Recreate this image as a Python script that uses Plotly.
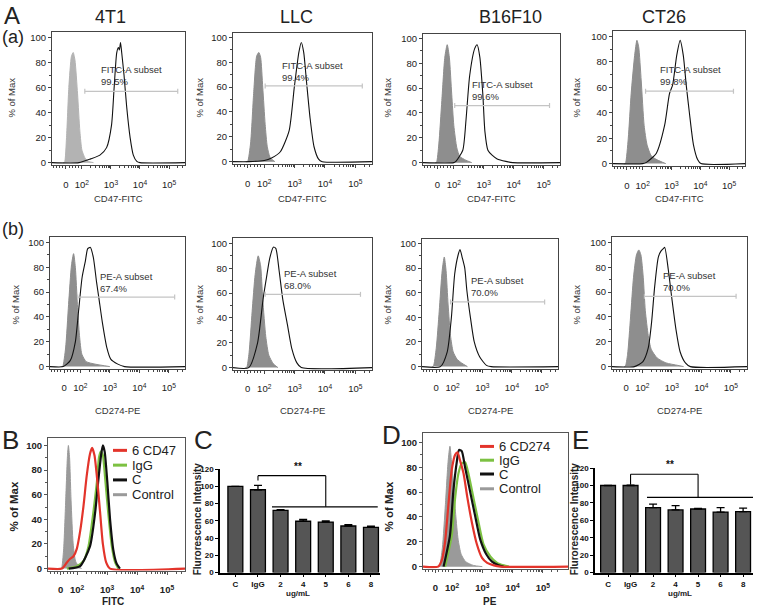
import math
import plotly.graph_objects as go

W, H = 757, 614
FONT = "Arial, Liberation Sans, sans-serif"

# ------------------------------------------------------------------ data
cell_lines = ["4T1", "LLC", "B16F10", "CT26"]
fitc_subset = ["99.5%", "99.4%", "99.6%", "99.8%"]
pe_subset = ["67.4%", "68.0%", "70.0%", "70.0%"]

# x values are in display units of the biexponential axis:
# "0" -> 1.45, 10^2 -> 2, 10^3 -> 3, 10^4 -> 4, 10^5 -> 5
# Row (a) CD47-FITC
cd47_4t1_ctrl_x = [1.35, 1.40, 1.47, 1.55, 1.64, 1.70, 1.76, 1.85, 1.93, 2.0, 2.1, 2.22, 2.4]
cd47_4t1_ctrl_y = [0, 0, 20, 60, 85, 88, 82, 55, 25, 10, 4, 1, 0]
cd47_4t1_x = [0.97, 1.9, 2.3, 2.62, 2.85, 3.02, 3.11, 3.2, 3.26, 3.29, 3.33, 3.37, 3.45, 3.54, 3.66, 3.77, 3.89, 4.0, 5.55]
cd47_4t1_y = [0, 0, 3, 6, 12, 30, 60, 88, 92, 90, 96, 88, 70, 45, 20, 6, 1, 0, 0]

cd47_llc_ctrl_x = [1.40, 1.45, 1.55, 1.65, 1.75, 1.82, 1.88, 1.95, 2.03, 2.1, 2.2, 2.35]
cd47_llc_ctrl_y = [0, 0, 15, 55, 85, 88, 84, 60, 30, 12, 3, 0]
cd47_llc_x = [0.97, 1.5, 2.0, 2.24, 2.53, 2.82, 2.99, 3.14, 3.22, 3.3, 3.39, 3.51, 3.64, 3.79, 3.91, 5.55]
cd47_llc_y = [0, 0, 1, 3, 8, 25, 60, 88, 96, 88, 65, 35, 12, 2, 0, 0]

cd47_b16_ctrl_x = [1.38, 1.42, 1.5, 1.6, 1.7, 1.78, 1.85, 1.93, 2.0, 2.1, 2.2, 2.4, 2.6]
cd47_b16_ctrl_y = [0, 0, 15, 50, 85, 95, 85, 55, 30, 12, 5, 2, 0]
cd47_b16_x = [0.97, 2.0, 2.07, 2.3, 2.41, 2.53, 2.7, 2.78, 2.87, 2.97, 3.04, 3.14, 3.28, 3.45, 3.74, 3.97, 5.55]
cd47_b16_y = [0, 0, 1, 10, 35, 70, 92, 95, 85, 55, 25, 10, 6, 3, 1, 0, 0]

cd47_ct26_ctrl_x = [1.36, 1.4, 1.5, 1.6, 1.72, 1.8, 1.86, 1.95, 2.05, 2.15, 2.3, 2.5, 2.8]
cd47_ct26_ctrl_y = [0, 0, 20, 55, 85, 97, 92, 65, 30, 15, 6, 3, 0]
cd47_ct26_x = [0.97, 2.0, 2.13, 2.47, 2.76, 2.93, 3.04, 3.18, 3.3, 3.41, 3.51, 3.62, 3.76, 3.91, 4.02, 5.55]
cd47_ct26_y = [0, 0, 1, 8, 30, 55, 62, 85, 97, 85, 62, 40, 15, 3, 0, 0]

# Row (b) CD274-PE
pdl1_4t1_ctrl_x = [1.36, 1.4, 1.5, 1.6, 1.7, 1.77, 1.83, 1.9, 1.97, 2.05, 2.2, 2.5, 3.0]
pdl1_4t1_ctrl_y = [0, 0, 15, 50, 82, 91, 80, 50, 25, 10, 4, 2, 0]
pdl1_4t1_x = [0.97, 1.42, 1.66, 1.83, 1.94, 2.06, 2.17, 2.25, 2.34, 2.44, 2.55, 2.63, 2.75, 2.9, 3.03, 3.27, 3.5, 5.55]
pdl1_4t1_y = [0, 0, 5, 20, 45, 72, 85, 95, 96, 88, 68, 55, 35, 15, 6, 2, 0, 0]

pdl1_llc_ctrl_x = [1.38, 1.42, 1.5, 1.6, 1.7, 1.8, 1.88, 1.95, 2.05, 2.15, 2.3, 2.45]
pdl1_llc_ctrl_y = [0, 0, 12, 45, 75, 90, 82, 55, 25, 10, 3, 0]
pdl1_llc_x = [0.97, 1.49, 1.78, 1.96, 2.07, 2.18, 2.3, 2.38, 2.49, 2.61, 2.76, 2.91, 3.07, 3.22, 5.55]
pdl1_llc_y = [0, 0, 20, 55, 72, 88, 97, 96, 78, 55, 35, 15, 4, 0, 0]

pdl1_b16_ctrl_x = [1.3, 1.35, 1.45, 1.55, 1.65, 1.72, 1.78, 1.85, 1.93, 2.02, 2.15, 2.3, 2.5]
pdl1_b16_ctrl_y = [0, 0, 15, 45, 78, 89, 78, 50, 25, 12, 6, 3, 0]
pdl1_b16_x = [0.97, 1.59, 1.82, 1.96, 2.07, 2.18, 2.25, 2.33, 2.41, 2.48, 2.6, 2.73, 2.91, 3.14, 3.3, 5.55]
pdl1_b16_y = [0, 0, 12, 40, 75, 90, 95, 88, 80, 62, 40, 20, 8, 1, 0, 0]

pdl1_ct26_ctrl_x = [1.38, 1.42, 1.5, 1.6, 1.7, 1.8, 1.88, 1.95, 2.03, 2.1, 2.2, 2.3, 2.5, 2.8, 3.2, 3.4]
pdl1_ct26_ctrl_y = [0, 0, 10, 40, 72, 90, 94, 90, 72, 45, 25, 14, 7, 3, 1, 0]
pdl1_ct26_x = [0.97, 1.73, 2.02, 2.2, 2.31, 2.42, 2.54, 2.63, 2.71, 2.76, 2.88, 3.0, 3.14, 3.28, 3.46, 3.63, 5.55]
pdl1_ct26_y = [0, 0, 4, 15, 35, 65, 88, 93, 95, 96, 78, 55, 30, 12, 3, 0, 0]

# gates (subset markers)
gate_a_level = [57, 61, 46, 57]
gate_a_start = [2.1, 2.03, 2.03, 2.1]
gate_a_end = [5.3, 5.23, 5.2, 5.15]
gate_b_level = [56, 59, 52.5, 56.6]
gate_b_start = [1.91, 2.03, 1.93, 2.07]
gate_b_end = [5.2, 5.17, 5.1, 5.18]

# Panel B (CD47 blocking)
b_ctrl_x = [1.45, 1.48, 1.55, 1.62, 1.68, 1.71, 1.75, 1.8, 1.87, 1.95, 2.05, 2.15]
b_ctrl_y = [0, 0, 15, 55, 92, 100, 90, 55, 20, 6, 2, 0]
b_cd47_x = [1.03, 1.49, 1.66, 1.77, 1.88, 1.99, 2.1, 2.21, 2.32, 2.43, 2.5, 2.58, 2.68, 2.77, 2.86, 2.97, 3.1, 5.6]
b_cd47_y = [0, 0, 5, 8, 10, 16, 30, 50, 75, 93, 98, 92, 70, 45, 20, 5, 0, 0]
b_igg_x = [1.66, 1.99, 2.21, 2.38, 2.54, 2.66, 2.73, 2.79, 2.86, 2.93, 3.04, 3.16, 3.27, 3.38]
b_igg_y = [0, 2, 6, 18, 45, 70, 90, 95, 92, 75, 45, 18, 5, 0]
b_c_x = [1.72, 2.1, 2.43, 2.6, 2.71, 2.8, 2.86, 2.92, 3.01, 3.1, 3.21, 3.32, 3.43]
b_c_y = [0, 2, 18, 45, 72, 92, 100, 95, 70, 40, 15, 4, 0]

# Panel D (CD274 blocking)
d_ctrl_x = [1.55, 1.58, 1.68, 1.78, 1.87, 1.93, 1.98, 2.05, 2.12, 2.2, 2.3, 2.45, 2.7, 3.0]
d_ctrl_y = [0, 0, 15, 50, 85, 97, 85, 65, 42, 22, 10, 4, 1, 0]
d_cd274_x = [1.04, 1.54, 1.66, 1.77, 1.88, 1.99, 2.1, 2.18, 2.27, 2.38, 2.51, 2.66, 2.82, 2.99, 3.16, 3.38, 3.6, 5.83]
d_cd274_y = [0, 0, 5, 20, 50, 78, 90, 92, 85, 75, 55, 35, 18, 7, 3, 1, 0, 0]
d_c_x = [1.72, 1.93, 2.04, 2.16, 2.23, 2.32, 2.43, 2.6, 2.77, 2.93, 3.13, 3.32, 3.54, 3.7]
d_c_y = [0, 25, 60, 85, 94, 93, 80, 60, 40, 22, 10, 4, 1, 0]
d_igg_x = [1.77, 1.99, 2.1, 2.21, 2.32, 2.43, 2.54, 2.71, 2.88, 3.04, 3.27, 3.49, 3.71, 3.88]
d_igg_y = [0, 25, 55, 75, 83, 84, 75, 55, 35, 18, 8, 3, 1, 0]

# Bar charts C / E
bar_labels = ["C", "IgG", "2", "4", "5", "6", "8"]
c_mean = [100, 96, 72, 59.5, 58.5, 54, 52.5]
c_sem = [0, 5, 1, 2, 1.3, 1.5, 1.3]
e_mean = [100, 100, 74.5, 72, 73, 69.5, 70]
e_sem = [0, 0.5, 4, 5, 0.8, 5, 4]
# significance brackets: [ref bar, target bar, ref start, top, target low, line start, line end]
c_sig = [1, 4, 106.7, 112.4, 76.2, 1.62, 6.3]
e_sig = [1, 4, 101, 113, 86.4, 1.73, 6.44]

# ------------------------------------------------------------------ helpers
fig = go.Figure()
layout = dict(width=W, height=H, margin=dict(l=0, r=0, t=0, b=0), autosize=False,
              paper_bgcolor="white", plot_bgcolor="white", showlegend=False,
              font=dict(family=FONT, color="#222"))
annotations = []
shapes = []


def ids(i):
    s = "" if i == 1 else str(i)
    return "x" + s, "y" + s, "xaxis" + s, "yaxis" + s


def note(text, x, y, size, xa="center", ya="middle", angle=0, weight="normal", color="#222"):
    annotations.append(dict(text=text, x=x / W, y=1 - y / H, xref="paper", yref="paper",
                            xanchor=xa, yanchor=ya, showarrow=False, textangle=angle,
                            font=dict(size=size, family=FONT, color=color, weight=weight)))


def decade(p):
    return "10<span style='font-size:70%;baseline-shift:38%'>" + str(p) + "</span>"


hist_tickvals = [1.45, 2, 3, 4, 5]
hist_ticktext = ["0", decade(2), decade(3), decade(4), decade(5)]
minor_x = ([k + math.log10(m) for k in (2, 3, 4) for m in range(2, 10)]
           + [5 + math.log10(m) for m in (2, 3)]
           + [1.45 + 0.11 * j for j in (1, 2, 3, 4)]
           + [1.45 - 0.11 * j for j in (1, 2, 3, 4)])


def hist_axes(i, left, right, p100, p0, xr, yr, bold=False, fsize=9.5, lc="#444"):
    k = (p0 - p100) / 100.0
    top = p100 - (yr[1] - 100) * k
    bottom = p0 - yr[0] * k
    xid, yid, xa, ya = ids(i)
    w = "bold" if bold else "normal"
    layout[xa] = dict(domain=[left / W, right / W], range=xr, anchor=yid, showgrid=False,
                      zeroline=False, showline=True, linecolor=lc, linewidth=1, mirror=True,
                      ticks="outside", ticklen=3, tickcolor=lc, tickvals=hist_tickvals,
                      ticktext=hist_ticktext, ticklabelstandoff=7,
                      tickfont=dict(size=fsize, color="#222", weight=w),
                      minor=dict(tickvals=minor_x, ticklen=2, ticks="outside", tickcolor=lc))
    layout[ya] = dict(domain=[1 - bottom / H, 1 - top / H], range=yr, anchor=xid, showgrid=False,
                      zeroline=False, showline=True, linecolor=lc, linewidth=1, mirror=True,
                      ticks="outside", ticklen=3, tickcolor=lc, tickvals=[0, 20, 40, 60, 80, 100],
                      tickfont=dict(size=fsize, color="#222", weight=w),
                      minor=dict(dtick=10, ticklen=2, ticks="outside", tickcolor=lc))
    return xid, yid


def gate(xid, yid, x0, x1, yv):
    st = dict(type="line", xref=xid, yref=yid, line=dict(color="#c4c4c4", width=1.2))
    shapes.append(dict(st, x0=x0, x1=x1, y0=yv, y1=yv))
    shapes.append(dict(st, x0=x0, x1=x0, y0=yv - 2, y1=yv + 2))
    shapes.append(dict(st, x0=x1, x1=x1, y0=yv - 2, y1=yv + 2))


# ------------------------------------------------------------------ rows (a) and (b)
row_a = [(cd47_4t1_ctrl_x, cd47_4t1_ctrl_y, cd47_4t1_x, cd47_4t1_y),
         (cd47_llc_ctrl_x, cd47_llc_ctrl_y, cd47_llc_x, cd47_llc_y),
         (cd47_b16_ctrl_x, cd47_b16_ctrl_y, cd47_b16_x, cd47_b16_y),
         (cd47_ct26_ctrl_x, cd47_ct26_ctrl_y, cd47_ct26_x, cd47_ct26_y)]
row_b = [(pdl1_4t1_ctrl_x, pdl1_4t1_ctrl_y, pdl1_4t1_x, pdl1_4t1_y),
         (pdl1_llc_ctrl_x, pdl1_llc_ctrl_y, pdl1_llc_x, pdl1_llc_y),
         (pdl1_b16_ctrl_x, pdl1_b16_ctrl_y, pdl1_b16_x, pdl1_b16_y),
         (pdl1_ct26_ctrl_x, pdl1_ct26_ctrl_y, pdl1_ct26_x, pdl1_ct26_y)]

a_left = [52, 233, 423, 613]
a_right = [185, 372, 560, 745]
a_p100 = [34, 34, 35, 33]
a_p0 = [161, 160, 161, 162]
b_left = [50, 233, 422, 612]
b_right = [185, 372, 558, 747]
b_p100 = [242, 243, 243, 242]
b_p0 = [368, 369, 368, 368]
title_x = [110, 296, 510, 664]
ytitle_x_a = [12, 200, 388, 577]
ytitle_x_b = [16, 200, 388, 577]
ctrl_grey = ["#b3b3b3", "#8e8e8e", "#8e8e8e", "#8e8e8e"]
lab_a = [(2.59, 69.5), (2.53, 73), (2.53, 58), (2.53, 69)]
lab_b = [(2.61, 68), (2.59, 71), (2.56, 65), (2.64, 68.3)]

XR = [0.97, 5.55]
YR = [-2, 104]

for j in range(4):
    for r, (row, left, right, p100, p0, subset, gl, gs, ge, lab, name, xlab) in enumerate([
        (row_a, a_left, a_right, a_p100, a_p0, fitc_subset, gate_a_level, gate_a_start, gate_a_end, lab_a, "FITC-A subset", "CD47-FITC"),
        (row_b, b_left, b_right, b_p100, b_p0, pe_subset, gate_b_level, gate_b_start, gate_b_end, lab_b, "PE-A subset", "CD274-PE")]):
        i = 1 + j + 4 * r
        xid, yid = hist_axes(i, left[j], right[j], p100[j], p0[j], XR, YR)
        cx, cy, sx, sy = row[j]
        g = ctrl_grey[j] if r == 0 else "#8e8e8e"
        fig.add_trace(go.Scatter(x=cx, y=cy, xaxis=xid, yaxis=yid, mode="lines", fill="tozeroy",
                                 fillcolor=g, line=dict(color=g, width=1, shape="spline", smoothing=0.6),
                                 name="Isotype"))
        fig.add_trace(go.Scatter(x=sx, y=sy, xaxis=xid, yaxis=yid, mode="lines",
                                 line=dict(color="#111", width=1.1, shape="spline", smoothing=0.6),
                                 name=cell_lines[j]))
        gate(xid, yid, gs[j], ge[j], gl[j])
        annotations.append(dict(text=name + "<br>" + subset[j], x=lab[j][0], y=lab[j][1], xref=xid, yref=yid,
                                xanchor="left", yanchor="middle", align="left", showarrow=False,
                                font=dict(size=9.5, family=FONT, color="#333")))
        cxp = (left[j] + right[j]) / 2
        note(xlab, cxp, 197 if r == 0 else 413, 9.5, color="#333")
        note("% of Max", ytitle_x_a[j] if r == 0 else ytitle_x_b[j], 95 if r == 0 else 305, 9.5,
             angle=-90, color="#333")
    note(cell_lines[j], title_x[j], 13, 18)

note("A", 2, 12, 24, xa="left")
note("(a)", 0, 33, 18, xa="left")
note("(b)", 0, 228, 18, xa="left")

# ------------------------------------------------------------------ B and D histograms
RED, GREEN, BLACK, GREY = "#e3342b", "#7cc142", "#111111", "#9a9a9a"


def overlay(i, left, right, p100, p0, xr, yr, curves, legend_names, leg_x, leg_y, xlab, xlab_x):
    xid, yid = hist_axes(i, left, right, p100, p0, xr, yr, bold=True, fsize=9.5, lc="#555")
    ctrl, grn, blk, red = curves
    fig.add_trace(go.Scatter(x=ctrl[0], y=ctrl[1], xaxis=xid, yaxis=yid, mode="lines", fill="tozeroy",
                             fillcolor=GREY, line=dict(color=GREY, width=1, shape="spline", smoothing=0.6),
                             name=legend_names[3]))
    for (cx, cy), col, nm in [(grn, GREEN, legend_names[1]), (blk, BLACK, legend_names[2]), (red, RED, legend_names[0])]:
        fig.add_trace(go.Scatter(x=cx, y=cy, xaxis=xid, yaxis=yid, mode="lines",
                                 line=dict(color=col, width=2.2, shape="spline", smoothing=0.6), name=nm))
    for nm, col, yy in zip(legend_names, [RED, GREEN, BLACK, GREY], leg_y):
        shapes.append(dict(type="line", xref="paper", yref="paper", x0=leg_x / W, x1=(leg_x + 14) / W,
                           y0=1 - yy / H, y1=1 - yy / H, line=dict(color=col, width=3)))
        note(nm, leg_x + 17, yy, 13, xa="left")
    note(xlab, xlab_x, 606, 10, weight="bold")


overlay(9, 48, 185, 448, 573, [1.03, 5.6], [-1.6, 106.4],
        [(b_ctrl_x, b_ctrl_y), (b_igg_x, b_igg_y), (b_c_x, b_c_y), (b_cd47_x, b_cd47_y)],
        ["6 CD47", "IgG", "C", "Control"], 113, [453, 468, 483, 498], "FITC", 113)
overlay(11, 423, 568, 445, 571, [1.04, 5.83], [-1.6, 107.9],
        [(d_ctrl_x, d_ctrl_y), (d_igg_x, d_igg_y), (d_c_x, d_c_y), (d_cd274_x, d_cd274_y)],
        ["6 CD274", "IgG", "C", "Control"], 480, [449, 463, 477, 492], "PE", 490)
note("% of Max", 14, 510, 11.5, angle=-90, weight="bold")
note("% of Max", 389, 510, 11.5, angle=-90, weight="bold")
note("B", 0, 442, 26, xa="left")
note("D", 380, 437, 26, xa="left")


# ------------------------------------------------------------------ bar charts C and E
def bar_panel(i, left, right, top, bottom, xr, means, sems, sig, ytitle_x, xlab_x):
    xid, yid, xa, ya = ids(i)
    layout[xa] = dict(domain=[left / W, right / W], range=xr, anchor=yid, showgrid=False, zeroline=False,
                      showline=True, linecolor="black", linewidth=1.5, ticks="outside", ticklen=3,
                      tickwidth=1.2, tickcolor="black", tickvals=list(range(len(bar_labels))),
                      ticktext=bar_labels, tickfont=dict(size=8, color="#111", weight="bold"))
    layout[ya] = dict(domain=[1 - bottom / H, 1 - top / H], range=[0, 120], anchor=xid, showgrid=False,
                      zeroline=False, showline=True, linecolor="black", linewidth=1.5, ticks="outside",
                      ticklen=3, tickwidth=1.2, tickcolor="black", dtick=20,
                      tickfont=dict(size=8, color="#111", weight="bold"))
    fig.add_trace(go.Bar(x=list(range(len(bar_labels))), y=means, xaxis=xid, yaxis=yid, width=0.66,
                         marker=dict(color="#555555", line=dict(color="black", width=1.3)),
                         error_y=dict(type="data", array=sems, arrayminus=[0] * len(sems), symmetric=False,
                                      color="black", thickness=1.3, width=4),
                         customdata=bar_labels, hovertemplate="%{customdata}: %{y}<extra></extra>"))
    a, b, ys, ytop, ylow, l0, l1 = sig
    st = dict(type="line", xref=xid, yref=yid, line=dict(color="black", width=1.1))
    shapes.append(dict(st, x0=a, x1=a, y0=ys, y1=ytop))
    shapes.append(dict(st, x0=a, x1=b, y0=ytop, y1=ytop))
    shapes.append(dict(st, x0=b, x1=b, y0=ytop, y1=ylow))
    shapes.append(dict(st, x0=l0, x1=l1, y0=ylow, y1=ylow))
    annotations.append(dict(text="**", x=(a + b) / 2 + 0.25, y=ytop + 2, xref=xid, yref=yid,
                            xanchor="center", yanchor="bottom", showarrow=False,
                            font=dict(size=10, family=FONT, color="#111", weight="bold")))
    note("Flurorescence Intensity", ytitle_x, 523, 10, angle=-90, weight="bold")
    note("ug/mL", xlab_x, 598, 8, weight="bold")


bar_panel(10, 220, 380, 472, 577, [-0.68, 6.4], c_mean, c_sem, c_sig, 197, 298)
bar_panel(12, 595, 753, 471, 577, [-0.58, 6.44], e_mean, e_sem, e_sig, 574, 680)
note("C", 192, 442, 26, xa="left")
note("E", 570, 442, 26, xa="left")

layout["annotations"] = annotations
layout["shapes"] = shapes
fig.update_layout(**layout)
fig.write_html("out.html", config={"displayModeBar": False},
               post_script="document.body.style.margin='0px';document.body.style.overflow='hidden';")
